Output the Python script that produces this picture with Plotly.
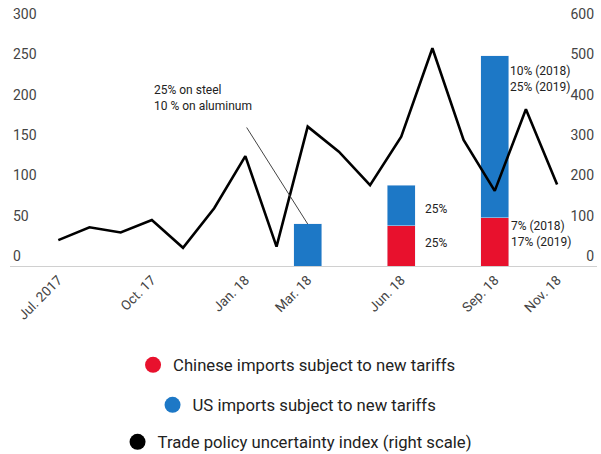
import plotly.graph_objects as go

# ---- data ----
months = ["Jul 17", "Aug 17", "Sep 17", "Oct 17", "Nov 17", "Dec 17",
          "Jan 18", "Feb 18", "Mar 18", "Apr 18", "May 18", "Jun 18",
          "Jul 18", "Aug 18", "Sep 18", "Oct 18", "Nov 18"]
uncertainty = [64, 96, 83, 114, 45, 143, 272, 48, 345, 283, 200, 320,
               539, 312, 186, 388, 202]

bar_months = ["Mar 18", "Jun 18", "Sep 18"]
china_imports = [0, 50, 60]
us_imports = [52, 50, 200]

tick_vals = ["Jul 17", "Oct 17", "Jan 18", "Mar 18", "Jun 18", "Sep 18", "Nov 18"]
tick_text = ["Jul. 2017", "Oct. 17", "Jan. 18", "Mar. 18", "Jun. 18", "Sep. 18", "Nov. 18"]

left_ticks = [0, 50, 100, 150, 200, 250, 300]
right_ticks = [0, 100, 200, 300, 400, 500, 600]

RED = "#E8112D"
BLUE = "#1D78C6"
BLACK = "#000000"
TXT = "#222222"

names = ["Chinese imports subject to new tariffs",
         "US imports subject to new tariffs",
         "Trade policy uncertainty index (right scale)"]

fig = go.Figure()

fig.add_trace(go.Bar(x=bar_months, y=china_imports, marker_color=RED,
                     width=0.9, showlegend=False, name=names[0]))
fig.add_trace(go.Bar(x=bar_months, y=us_imports, marker_color=BLUE,
                     width=0.9, showlegend=False, name=names[1]))
fig.add_trace(go.Scatter(x=months, y=uncertainty, yaxis="y2", mode="lines",
                         line=dict(color=BLACK, width=2.6), showlegend=False,
                         name=names[2]))

# legend-only circle markers, one centred row each
for nm, col, lg in zip(names, [RED, BLUE, BLACK], ["legend", "legend2", "legend3"]):
    fig.add_trace(go.Scatter(x=[None], y=[None], mode="markers", name=nm,
                             marker=dict(color=col, size=16), legend=lg))

legend_common = dict(xanchor="center", yanchor="middle", x=0.489,
                     yref="container",
                     bgcolor="rgba(0,0,0,0)", font=dict(size=16.7, color="#222"),
                     orientation="h")
fig.update_layout(
    legend=dict(y=1 - 365 / 454, **legend_common),
    legend2=dict(y=1 - 405 / 454, **legend_common),
    legend3=dict(y=1 - 442 / 454, **legend_common),
)

ann_font = dict(size=12, color=TXT)
annotations = [
    # pointer line for steel/aluminum
    dict(x="Mar 18", y=us_imports[0], xref="x", yref="y", text="",
         showarrow=True, arrowhead=0, arrowwidth=1, arrowcolor="#444",
         ax=-62, ay=-98, standoff=0),
    dict(x="Oct 17", y=208, xref="x", yref="y",
         text="25% on steel<br>10 % on aluminum", showarrow=False,
         xanchor="left", yanchor="middle", align="left", font=ann_font),
    dict(x="Jun 18", y=71, xref="x", yref="y", text="25%", showarrow=False,
         xanchor="left", xshift=22, font=ann_font),
    dict(x="Jun 18", y=29, xref="x", yref="y", text="25%", showarrow=False,
         xanchor="left", xshift=22, font=ann_font),
    dict(x="Sep 18", y=231, xref="x", yref="y",
         text="10% (2018)<br>25% (2019)", showarrow=False,
         xanchor="left", align="left", xshift=13, font=ann_font),
    dict(x="Sep 18", y=39, xref="x", yref="y",
         text="7% (2018)<br>17% (2019)", showarrow=False,
         xanchor="left", align="left", xshift=14, font=ann_font),
]

fig.update_layout(
    width=601, height=454,
    margin=dict(l=10, r=4, t=1, b=188, autoexpand=False),
    paper_bgcolor="white", plot_bgcolor="white",
    font=dict(family="Roboto, sans-serif", color="#444"),
    barmode="stack",
    xaxis=dict(type="category", categoryorder="array", categoryarray=months,
               range=[-1.55, 17.28], tickvals=tick_vals, ticktext=tick_text,
               tickangle=-45, showgrid=False, showline=True, linecolor="#d0d0d0",
               linewidth=1, ticks="", tickfont=dict(size=13.5, color="#444"),
               zeroline=False, automargin=False),
    yaxis=dict(range=[0, 328], tickvals=left_ticks, showgrid=False,
               zeroline=False, ticklabelposition="inside top", automargin=False,
               tickfont=dict(size=14, color="#444")),
    yaxis2=dict(range=[0, 656], tickvals=right_ticks, overlaying="y",
                side="right", showgrid=False, zeroline=False,
                ticklabelposition="inside top", automargin=False,
                tickfont=dict(size=14, color="#444")),
    annotations=annotations,
)

fig.write_html("out.html")
